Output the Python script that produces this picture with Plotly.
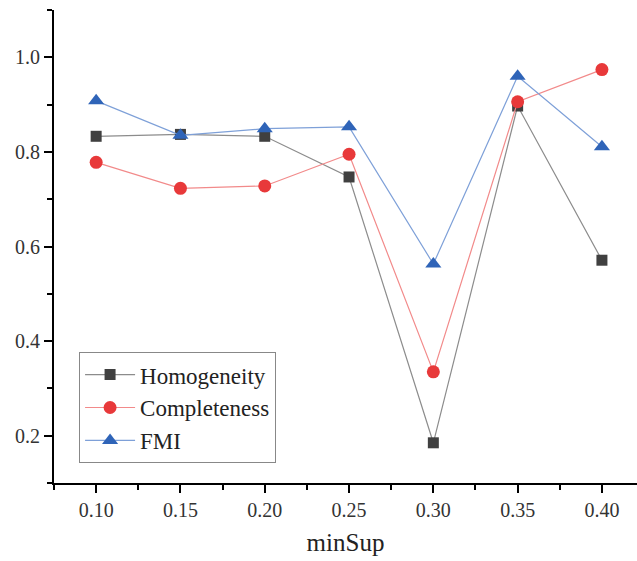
import plotly.graph_objects as go

min_sup = [0.10, 0.15, 0.20, 0.25, 0.30, 0.35, 0.40]
homogeneity = [0.833, 0.837, 0.833, 0.747, 0.185, 0.897, 0.571]
completeness = [0.778, 0.723, 0.728, 0.795, 0.335, 0.906, 0.974]
fmi = [0.908, 0.835, 0.849, 0.853, 0.563, 0.960, 0.811]
x_ticks = [0.10, 0.15, 0.20, 0.25, 0.30, 0.35, 0.40]
x_tick_text = ["0.10", "0.15", "0.20", "0.25", "0.30", "0.35", "0.40"]
y_ticks = [0.2, 0.4, 0.6, 0.8, 1.0]
y_tick_text = ["0.2", "0.4", "0.6", "0.8", "1.0"]

FONT = "Liberation Serif, Times New Roman, serif"

fig = go.Figure()
fig.add_trace(go.Scatter(
    x=min_sup, y=homogeneity, name="Homogeneity", mode="lines+markers",
    line=dict(color="#8c8c8c", width=1.2),
    marker=dict(symbol="square", size=11, color="#404040"),
))
fig.add_trace(go.Scatter(
    x=min_sup, y=completeness, name="Completeness", mode="lines+markers",
    line=dict(color="#f28a8a", width=1.2),
    marker=dict(symbol="circle", size=13, color="#e8393a"),
))
fig.add_trace(go.Scatter(
    x=min_sup, y=fmi, name="FMI", mode="lines+markers",
    line=dict(color="#7ea0d8", width=1.2),
    marker=dict(symbol="triangle-up", size=14, color="#2f64b8"),
))

axis_common = dict(
    showline=True, linecolor="black", linewidth=1.8,
    ticks="outside", ticklen=8, tickwidth=1.8, tickcolor="black",
    showgrid=False, zeroline=False, mirror=False,
    tickfont=dict(family=FONT, size=20, color="#333"),
)

fig.update_xaxes(
    range=[0.075, 0.4208], tickvals=x_ticks, ticktext=x_tick_text,
    title=dict(text="minSup", font=dict(family=FONT, size=25, color="#222"), standoff=14),
    minor=dict(ticks="outside", ticklen=5, tickwidth=1.6, tickcolor="black", dtick=0.025, tick0=0.075),
    **axis_common,
)
fig.update_yaxes(
    range=[0.1, 1.1], tickvals=y_ticks, ticktext=y_tick_text,
    minor=dict(ticks="outside", ticklen=5, tickwidth=1.6, tickcolor="black", dtick=0.1, tick0=0.1),
    **axis_common,
)

fig.update_layout(
    width=637, height=561,
    margin=dict(l=54, r=0, t=10, b=78),
    plot_bgcolor="white", paper_bgcolor="white",
    showlegend=True,
    legend=dict(
        x=0.043, y=0.042, xanchor="left", yanchor="bottom",
        bordercolor="#888", borderwidth=1, bgcolor="white",
        font=dict(family=FONT, size=23, color="#222"),
        itemwidth=50, tracegroupgap=0,
    ),
)

fig.write_html("out.html")
